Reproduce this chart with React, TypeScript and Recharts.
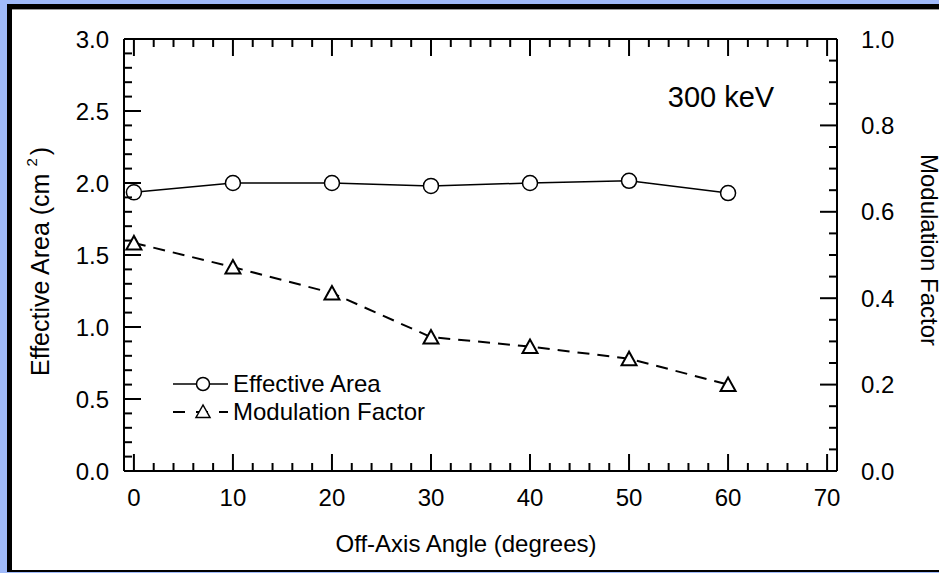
import React from 'react';
import { ComposedChart, Line, XAxis, YAxis, Legend } from 'recharts';

const angles = [0, 10, 20, 30, 40, 50, 60];
const effectiveArea = [1.935, 2.0, 2.0, 1.98, 2.0, 2.015, 1.93];
const modulationFactor = [0.528, 0.472, 0.412, 0.31, 0.288, 0.26, 0.2];

const xMajorLabels = [0, 10, 20, 30, 40, 50, 60, 70];
const leftMajorLabels = ['0.0', '0.5', '1.0', '1.5', '2.0', '2.5', '3.0'];
const rightMajorLabels = ['0.0', '0.2', '0.4', '0.6', '0.8', '1.0'];

const xTicks = Array.from({ length: 36 }, (_, i) => i * 2);
const leftTicks = Array.from({ length: 31 }, (_, i) => Math.round(i * 10) / 100);
const rightTicks = Array.from({ length: 21 }, (_, i) => Math.round(i * 5) / 100);

const data = angles.map((a, i) => ({ angle: a, area: effectiveArea[i], mod: modulationFactor[i] }));

const FONT = 'Liberation Sans, Arial, Helvetica, sans-serif';
const TICK_FS = 24;
const MAJ = 17;
const MIN = 8;

const isMajorX = (v: number) => xMajorLabels.includes(v);
const findLabel = (labels: string[], v: number) => labels.find((l) => Math.abs(parseFloat(l) - v) < 1e-6);

const BottomTick = (props: any) => {
  const { x, y, payload } = props;
  const v = payload.value;
  const major = isMajorX(v);
  return (
    <g>
      <line x1={x} y1={y} x2={x} y2={y - (major ? MAJ : MIN)} stroke="#000" strokeWidth={2} />
      {major && (
        <text x={x} y={y + 35} textAnchor="middle" fontSize={TICK_FS} fontFamily={FONT} fill="#000">
          {String(v)}
        </text>
      )}
    </g>
  );
};

const TopTick = (props: any) => {
  const { x, y, payload } = props;
  const major = isMajorX(payload.value);
  return <line x1={x} y1={y} x2={x} y2={y + (major ? MAJ : MIN)} stroke="#000" strokeWidth={2} />;
};

const LeftTick = (props: any) => {
  const { x, y, payload } = props;
  const label = findLabel(leftMajorLabels, payload.value);
  const major = label !== undefined;
  return (
    <g>
      <line x1={x} y1={y} x2={x + (major ? MAJ : MIN)} y2={y} stroke="#000" strokeWidth={2} />
      {major && (
        <text x={x - 15} y={y + 8.5} textAnchor="end" fontSize={TICK_FS} fontFamily={FONT} fill="#000">
          {label}
        </text>
      )}
    </g>
  );
};

const RightTick = (props: any) => {
  const { x, y, payload } = props;
  const label = findLabel(rightMajorLabels, payload.value);
  const major = label !== undefined;
  return (
    <g>
      <line x1={x} y1={y} x2={x - (major ? MAJ : MIN)} y2={y} stroke="#000" strokeWidth={2} />
      {major && (
        <text x={x + 24} y={y + 8.5} textAnchor="start" fontSize={TICK_FS} fontFamily={FONT} fill="#000">
          {label}
        </text>
      )}
    </g>
  );
};

const CircleDot = (props: any) => {
  const { cx, cy } = props;
  if (cx == null || cy == null) return null;
  return <circle cx={cx} cy={cy} r={7.5} fill="#fff" stroke="#000" strokeWidth={1.5} />;
};

const TriangleDot = (props: any) => {
  const { cx, cy } = props;
  if (cx == null || cy == null) return null;
  const pts = `${cx},${cy - 7} ${cx - 7.5},${cy + 6.5} ${cx + 7.5},${cy + 6.5}`;
  return <polygon points={pts} fill="#fff" stroke="#000" strokeWidth={2} />;
};

const LegendContent = () => (
  <svg width={300} height={70} style={{ display: 'block' }}>
    <g transform="translate(-160,-365)">
      <line x1={173} y1={384} x2={228} y2={384} stroke="#000" strokeWidth={1.5} />
      <circle cx={203} cy={384} r={6.5} fill="#fff" stroke="#000" strokeWidth={1.5} />
      <text x={233} y={392} fontSize={24} fontFamily={FONT} fill="#000">Effective Area</text>
      <line x1={173} y1={412} x2={228} y2={412} stroke="#000" strokeWidth={2} strokeDasharray="12 11" />
      <polygon points="203,405 196,417.5 210,417.5" fill="#fff" stroke="#000" strokeWidth={1.5} />
      <text x={233} y={420} fontSize={24} fontFamily={FONT} fill="#000">Modulation Factor</text>
    </g>
  </svg>
);

export default function App() {
  return (
    <div style={{ position: 'absolute', left: 0, top: 0, width: 939, height: 573, background: '#a0bafa', overflow: 'hidden' }}>
      <div
        style={{
          position: 'absolute',
          left: 7,
          top: 4,
          width: 940,
          height: 561,
          background: '#fff',
          borderLeft: '5px solid #000',
          borderTop: '5px solid #000',
          borderBottom: '2.5px solid #000',
        }}
      />
      <div style={{ position: 'absolute', left: 12, top: 9, width: 930, height: 1, background: '#999' }} />
      <div style={{ position: 'absolute', left: 0, top: 0 }}>
        <ComposedChart width={939} height={573} data={data} margin={{ top: 38, right: 101, bottom: 101, left: 123 }}>
          <XAxis
            xAxisId="bottom"
            dataKey="angle"
            type="number"
            domain={[-1, 71]}
            ticks={xTicks}
            interval={0}
            height={1}
            tickSize={0}
            tickMargin={0}
            tickLine={false}
            axisLine={{ stroke: '#000', strokeWidth: 2 }}
            tick={<BottomTick />}
            allowDataOverflow
          />
          <XAxis
            xAxisId="top"
            orientation="top"
            dataKey="angle"
            type="number"
            domain={[-1, 71]}
            ticks={xTicks}
            interval={0}
            height={1}
            tickSize={0}
            tickMargin={0}
            tickLine={false}
            axisLine={{ stroke: '#000', strokeWidth: 2 }}
            tick={<TopTick />}
            allowDataOverflow
          />
          <YAxis
            yAxisId="left"
            type="number"
            domain={[0, 3]}
            ticks={leftTicks}
            interval={0}
            width={1}
            tickSize={0}
            tickMargin={0}
            tickLine={false}
            axisLine={{ stroke: '#000', strokeWidth: 2 }}
            tick={<LeftTick />}
            allowDataOverflow
          />
          <YAxis
            yAxisId="right"
            orientation="right"
            type="number"
            domain={[0, 1]}
            ticks={rightTicks}
            interval={0}
            width={1}
            tickSize={0}
            tickMargin={0}
            tickLine={false}
            axisLine={{ stroke: '#000', strokeWidth: 2 }}
            tick={<RightTick />}
            allowDataOverflow
          />
          <Line
            xAxisId="bottom"
            yAxisId="left"
            dataKey="area"
            name="Effective Area"
            stroke="#000"
            strokeWidth={1.5}
            dot={<CircleDot />}
            isAnimationActive={false}
          />
          <Line
            xAxisId="bottom"
            yAxisId="right"
            dataKey="mod"
            name="Modulation Factor"
            stroke="#000"
            strokeWidth={2}
            strokeDasharray="12 8"
            dot={<TriangleDot />}
            isAnimationActive={false}
          />
          <Legend
            layout="vertical"
            align="center"
            verticalAlign="middle"
            content={<LegendContent />}
            wrapperStyle={{ position: 'absolute', left: 160, top: 365, width: 300, height: 70 }}
          />
        </ComposedChart>
      </div>
      <svg width={939} height={573} style={{ position: 'absolute', left: 0, top: 0, pointerEvents: 'none' }}>
        <text x={721} y={107} textAnchor="middle" fontSize={29} fontFamily={FONT} fill="#000">300 keV</text>
        <text x={466} y={552} textAnchor="middle" fontSize={24} fontFamily={FONT} fill="#000">Off-Axis Angle (degrees)</text>
        <text transform="translate(49,376) rotate(-90)" textAnchor="start" fontSize={25} fontFamily={FONT} fill="#000">
          Effective Area (cm<tspan dx={7} dy={-12} fontSize={15}>2</tspan><tspan dx={3} dy={12}>)</tspan>
        </text>
        <text transform="translate(921,250) rotate(90)" textAnchor="middle" fontSize={24} fontFamily={FONT} fill="#000">
          Modulation Factor
        </text>
      </svg>
    </div>
  );
}
